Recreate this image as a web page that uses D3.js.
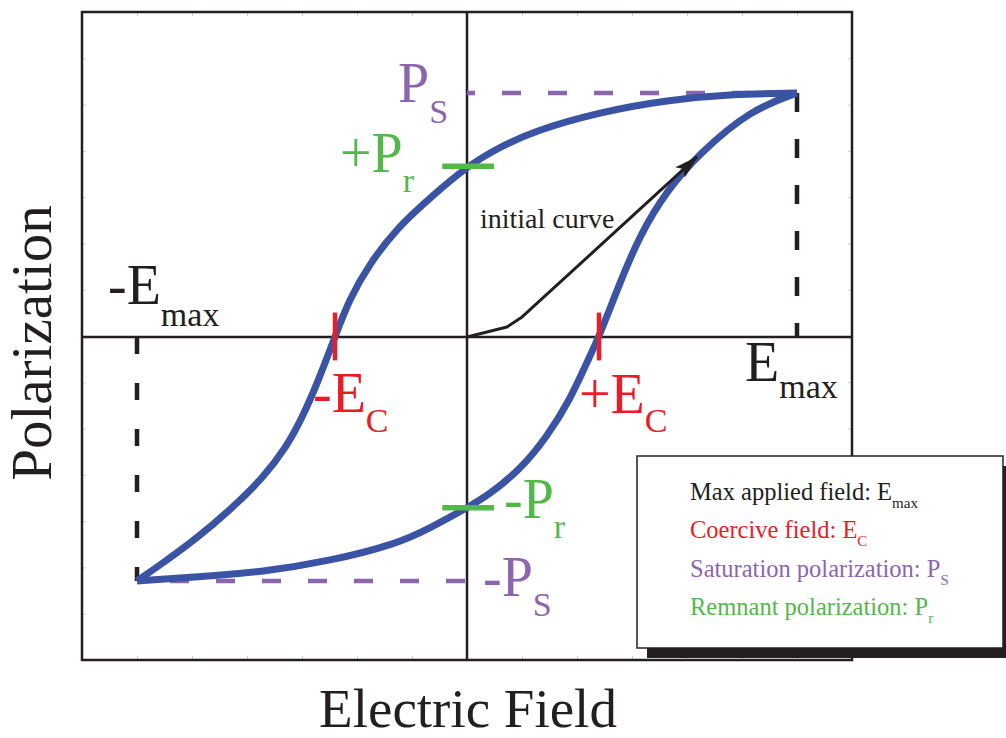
<!DOCTYPE html>
<html>
<head>
<meta charset="utf-8">
<script src="https://cdn.jsdelivr.net/npm/d3@7"></script>
<style>
  html, body { margin: 0; padding: 0; background: #fff; }
  svg { display: block; }
  text { font-family: "Liberation Serif", "Times New Roman", serif; }
</style>
</head>
<body>
<svg id="chart" width="1006" height="738"></svg>
<script>
// Characteristic field / polarization values (normalised units)
const E_MAX = 1;
const P_SAT = 1;
const E_COERCIVE = 0.4;
const P_REMNANT = 0.7;

// Ascending branch of the hysteresis loop: -Emax -> +Emax
const upperE = [-1, -0.921, -0.818, -0.718, -0.618, -0.545, -0.497, -0.452, -0.4, -0.358, -0.294, -0.212, -0.112, 0, 0.1, 0.203, 0.403, 0.606, 0.809, 1];
const upperP = [-1, -0.926, -0.824, -0.709, -0.578, -0.447, -0.324, -0.184, 0, 0.152, 0.303, 0.447, 0.57, 0.7, 0.779, 0.844, 0.922, 0.971, 0.996, 1];

// Descending branch of the loop (listed from -Emax to +Emax)
const lowerE = [-1, -0.818, -0.618, -0.415, -0.212, -0.112, 0, 0.061, 0.161, 0.242, 0.312, 0.364, 0.4, 0.464, 0.524, 0.606, 0.706, 0.858, 1];
const lowerP = [-1, -0.984, -0.963, -0.918, -0.848, -0.783, -0.7, -0.652, -0.545, -0.41, -0.258, -0.102, 0, 0.225, 0.418, 0.602, 0.754, 0.93, 1];

// Initial (virgin) polarization curve
const initE = [0, 0.121, 0.167, 0.697];
const initP = [0, 0.041, 0.082, 0.738];

// Axis titles and legend entries
const axisTitles = ["Electric Field", "Polarization"];
const legendMain = ["Max applied field: E", "Coercive field: E", "Saturation polarization: P", "Remnant polarization: P"];
const legendSub = ["max", "C", "S", "r"];

const COLORS = {
  ink: "#231f20",
  loop: "#3a53a4",
  red: "#ec1c24",
  purple: "#8c65b0",
  green: "#52b848"
};

const svg = d3.select("#chart");

const x = d3.scaleLinear().domain([-7 / 6, 7 / 6]).range([82, 852]);
const y = d3.scaleLinear().domain([-1.324, 1.332]).range([660, 12]);

// faint frame ticks
const xTicks = d3.range(-7, 8).map(k => k / 6);
const yTicks = d3.range(0, 15).map(k => -1.324 + k * 2.656 / 14);
function faint(g) {
  g.select(".domain").remove();
  g.selectAll(".tick line").attr("stroke", "#d0d0d0").attr("stroke-width", 1);
  g.selectAll(".tick text").remove();
}
svg.append("g").attr("transform", `translate(0,${y.range()[1]})`)
  .call(d3.axisBottom(x).tickValues(xTicks).tickSize(4)).call(faint);
svg.append("g").attr("transform", `translate(0,${y.range()[0]})`)
  .call(d3.axisTop(x).tickValues(xTicks).tickSize(4)).call(faint);
svg.append("g").attr("transform", `translate(${x.range()[0]},0)`)
  .call(d3.axisRight(y).tickValues(yTicks).tickSize(4)).call(faint);
svg.append("g").attr("transform", `translate(${x.range()[1]},0)`)
  .call(d3.axisLeft(y).tickValues(yTicks).tickSize(4)).call(faint);

// frame
svg.append("rect")
  .attr("x", x.range()[0]).attr("y", y.range()[1])
  .attr("width", x.range()[1] - x.range()[0])
  .attr("height", y.range()[0] - y.range()[1])
  .attr("fill", "none").attr("stroke", COLORS.ink).attr("stroke-width", 2.5);

// zero axes
svg.append("line")
  .attr("x1", x.range()[0]).attr("x2", x.range()[1])
  .attr("y1", y(0)).attr("y2", y(0))
  .attr("stroke", COLORS.ink).attr("stroke-width", 2.5);
svg.append("line")
  .attr("x1", x(0)).attr("x2", x(0))
  .attr("y1", y.range()[1]).attr("y2", y.range()[0])
  .attr("stroke", COLORS.ink).attr("stroke-width", 2.5);

// saturation / max field guide lines
function guide(x1, y1, x2, y2, color, dash, offset) {
  svg.append("line")
    .attr("x1", x1).attr("y1", y1).attr("x2", x2).attr("y2", y2)
    .attr("stroke", color).attr("stroke-width", 4.5)
    .attr("stroke-dasharray", dash).attr("stroke-dashoffset", offset || 0);
}
guide(x(E_MAX), y(P_SAT), x(0), y(P_SAT), COLORS.purple, "19,27");
guide(x(-E_MAX), y(-P_SAT), x(0), y(-P_SAT), COLORS.purple, "19,27", 13);
guide(x(E_MAX), y(P_SAT), x(E_MAX), y(0), COLORS.ink, "19,27");
guide(x(-E_MAX), y(0), x(-E_MAX), y(-P_SAT), COLORS.ink, "17,29");

// hysteresis loop (smoothed B-spline through the sampled branch points)
const line = d3.line().x(d => x(d[0])).y(d => y(d[1])).curve(d3.curveBasis);
const upper = upperE.map((e, i) => [e, upperP[i]]);
const lower = lowerE.map((e, i) => [e, lowerP[i]]);
[upper, lower].forEach(branch => {
  svg.append("path").datum(branch).attr("d", line)
    .attr("fill", "none").attr("stroke", COLORS.loop)
    .attr("stroke-width", 7).attr("stroke-linejoin", "round");
});

// initial curve with arrow
svg.append("defs").append("marker")
  .attr("id", "arrow").attr("markerUnits", "userSpaceOnUse")
  .attr("viewBox", "0 0 24 14").attr("refX", 23).attr("refY", 7)
  .attr("markerWidth", 24).attr("markerHeight", 14).attr("orient", "auto")
  .append("path").attr("d", "M0,0 L24,7 L0,14 L5,7 Z").attr("fill", COLORS.ink);
const init = initE.map((e, i) => [e, initP[i]]);
svg.append("path").datum(init)
  .attr("d", d3.line().x(d => x(d[0])).y(d => y(d[1])))
  .attr("fill", "none").attr("stroke", COLORS.ink).attr("stroke-width", 3)
  .attr("stroke-linejoin", "round").attr("marker-end", "url(#arrow)");
svg.append("text").attr("x", 480).attr("y", 228)
  .attr("font-size", 28).attr("fill", COLORS.ink).text("initial curve");

// coercive field and remnant polarization markers
[-E_COERCIVE, E_COERCIVE].forEach(e => {
  svg.append("line").attr("x1", x(e)).attr("x2", x(e))
    .attr("y1", y(0.1)).attr("y2", y(-0.096))
    .attr("stroke", COLORS.red).attr("stroke-width", 4.5);
});
[-P_REMNANT, P_REMNANT].forEach(p => {
  svg.append("line").attr("x1", x(-0.075)).attr("x2", x(0.082))
    .attr("y1", y(p)).attr("y2", y(p))
    .attr("stroke", COLORS.green).attr("stroke-width", 5.5);
});

// subscripted labels
function label(px, py, main, sub, color, size, subSize, drop) {
  const t = svg.append("text").attr("x", px).attr("y", py)
    .attr("font-size", size).attr("fill", color);
  t.append("tspan").text(main);
  t.append("tspan").attr("font-size", subSize).attr("dy", drop).text(sub);
  return t;
}
label(x(0) - 69, y(P_SAT) + 9, "P", "S", COLORS.purple, 56, 34, 21);
label(x(0) - 127, y(P_REMNANT) + 6, "+P", "r", COLORS.green, 56, 34, 20);
label(x(-E_MAX) - 29, y(0) - 33, "-E", "max", COLORS.ink, 56, 34, 22);
label(x(E_MAX) - 52, y(0) + 44, "E", "max", COLORS.ink, 56, 34, 17);
label(x(-E_COERCIVE) - 22, y(0) + 75, "-E", "C", COLORS.red, 56, 34, 20);
label(x(E_COERCIVE) - 20, y(0) + 76, "+E", "C", COLORS.red, 56, 34, 19);
label(x(0) + 37, y(-P_REMNANT) + 10, "-P", "r", COLORS.green, 56, 34, 20);
label(x(0) + 16, y(-P_SAT) + 15, "-P", "S", COLORS.purple, 56, 34, 20);

// axis titles
svg.append("text").attr("x", 468).attr("y", 727)
  .attr("text-anchor", "middle").attr("font-size", 55).attr("fill", COLORS.ink)
  .text(axisTitles[0]);
svg.append("text").attr("transform", "translate(51,343) rotate(-90)")
  .attr("text-anchor", "middle").attr("font-size", 57).attr("fill", COLORS.ink)
  .text(axisTitles[1]);

// legend box with drop shadow
const legend = svg.append("g");
legend.append("rect").attr("x", 647).attr("y", 466).attr("width", 366).attr("height", 192)
  .attr("fill", COLORS.ink);
legend.append("rect").attr("x", 637).attr("y", 456).attr("width", 366).attr("height", 192)
  .attr("fill", "#fff").attr("stroke", COLORS.ink).attr("stroke-width", 1.5);
const legendColors = [COLORS.ink, COLORS.red, COLORS.purple, COLORS.green];
legendMain.forEach((m, i) => {
  const t = legend.append("text").attr("x", 690).attr("y", 500 + i * 38.3)
    .attr("font-size", 24.5).attr("fill", legendColors[i]);
  t.append("tspan").text(m);
  t.append("tspan").attr("font-size", 15).attr("dy", 8).text(legendSub[i]);
});
</script>
</body>
</html>
